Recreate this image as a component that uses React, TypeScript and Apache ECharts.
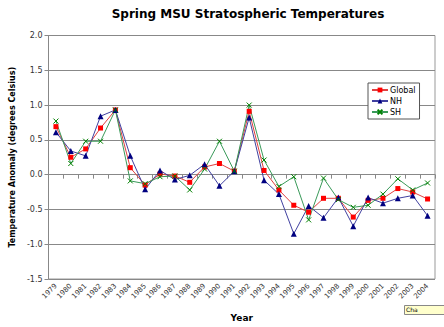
import React, { useEffect, useRef } from "react";
import * as echarts from "echarts";

const years = ["1979","1980","1981","1982","1983","1984","1985","1986","1987","1988","1989","1990","1991","1992","1993","1994","1995","1996","1997","1998","1999","2000","2001","2002","2003","2004"];
const globalVals = [0.69,0.25,0.37,0.67,0.93,0.10,-0.15,0.01,-0.02,-0.11,0.11,0.16,0.05,0.91,0.06,-0.22,-0.44,-0.54,-0.34,-0.34,-0.61,-0.37,-0.34,-0.20,-0.25,-0.35];
const nhVals = [0.61,0.34,0.27,0.84,0.93,0.27,-0.21,0.06,-0.07,-0.01,0.15,-0.16,0.05,0.82,-0.08,-0.28,-0.85,-0.45,-0.62,-0.33,-0.74,-0.33,-0.41,-0.34,-0.30,-0.59];
const shVals = [0.77,0.16,0.48,0.48,0.93,-0.09,-0.13,-0.03,-0.02,-0.22,0.08,0.48,0.05,1.0,0.21,-0.17,-0.03,-0.65,-0.05,-0.36,-0.47,-0.44,-0.28,-0.06,-0.22,-0.12];
const yTicks = { min: -1.5, max: 2.0, interval: 0.5 };

const FONT = "DejaVu Sans";

export default function App() {
  const ref = useRef<HTMLDivElement>(null);
  useEffect(() => {
    if (!ref.current) return;
    const chart = echarts.init(ref.current, undefined, { renderer: "svg" });
    chart.setOption({
      animation: false,
      backgroundColor: "#ffffff",
      title: {
        text: "Spring MSU Stratospheric Temperatures",
        left: 243,
        top: 3,
        textAlign: "center",
        textStyle: { fontFamily: FONT, fontSize: 12, fontWeight: "bold", color: "#000" },
      },
      legend: {
        orient: "vertical",
        left: 368,
        top: 83,
        padding: [3, 4, 3, 3],
        itemGap: 3,
        itemWidth: 16,
        itemHeight: 6,
        borderColor: "#555",
        borderWidth: 1,
        backgroundColor: "#fff",
        borderRadius: 0,
        textStyle: { fontFamily: FONT, fontSize: 8, color: "#000", padding: [0, 0, 0, -3] },
        data: ["Global", "NH", "SH"],
      },
      grid: {
        left: 37,
        right: 9,
        top: 35.5,
        bottom: 41.5,
        show: true,
        borderColor: "#999",
        borderWidth: 1,
      },
      xAxis: {
        type: "category",
        data: years,
        boundaryGap: true,
        name: "Year",
        nameLocation: "middle",
        nameGap: 34,
        nameTextStyle: { fontFamily: FONT, fontSize: 9, fontWeight: "bold", color: "#000" },
        axisLine: { lineStyle: { color: "#888", width: 1 } },
        axisTick: { show: true, length: 4, lineStyle: { color: "#888" } },
        axisLabel: { interval: 0, rotate: 45, fontFamily: FONT, fontSize: 7, color: "#333", margin: 6 },
        splitLine: { show: false },
      },
      yAxis: {
        type: "value",
        min: yTicks.min,
        max: yTicks.max,
        interval: yTicks.interval,
        name: "Temperature Anomaly (degrees Celsius)",
        nameLocation: "middle",
        nameGap: 29,
        nameTextStyle: { fontFamily: FONT, fontSize: 8, fontWeight: "bold", color: "#000" },
        axisLine: { show: true, lineStyle: { color: "#888", width: 1 } },
        axisTick: { show: true, length: 4, lineStyle: { color: "#888" } },
        axisLabel: {
          fontFamily: FONT,
          fontSize: 8,
          color: "#333",
          margin: 6,
          formatter: (v: number) => v.toFixed(1),
        },
        splitLine: { show: true, lineStyle: { color: "#888", width: 1 } },
      },
      series: [
        {
          name: "Global",
          type: "line",
          data: globalVals,
          symbol: "rect",
          symbolSize: 5,
          lineStyle: { color: "#e04040", width: 1 },
          itemStyle: { color: "#ff0000" },
        },
        {
          name: "NH",
          type: "line",
          data: nhVals,
          symbol: "triangle",
          symbolSize: 6,
          lineStyle: { color: "#4040a0", width: 1 },
          itemStyle: { color: "#000080" },
        },
        {
          name: "SH",
          type: "line",
          data: shVals,
          symbol: "path://M0,0L10,10M10,0L0,10",
          symbolSize: 5,
          lineStyle: { color: "#3a9a5a", width: 1 },
          itemStyle: { color: "#008000", borderColor: "#008000", borderWidth: 1 },
        },
      ],
      graphic: [
        {
          type: "rect",
          left: 404,
          top: 305,
          shape: { width: 40, height: 9 },
          style: { fill: "#ffffcc", stroke: "#888", lineWidth: 1 },
        },
        {
          type: "text",
          left: 406,
          top: 306,
          style: { text: "Cha", fontFamily: FONT, fontSize: 6, fill: "#000" },
        },
      ],
    });
    return () => chart.dispose();
  }, []);
  return <div ref={ref} style={{ width: 444, height: 327, position: "absolute", left: 0, top: 0 }} />;
}
